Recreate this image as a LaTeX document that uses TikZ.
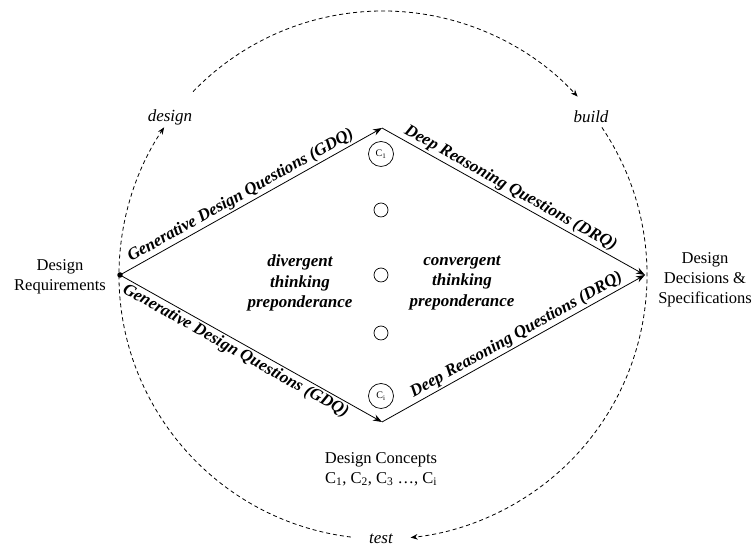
\documentclass[tikz,border=0pt]{standalone}
\usepackage{fontspec}
\setmainfont{Liberation Serif}
\usetikzlibrary{arrows.meta,calc}
\begin{document}
\begin{tikzpicture}[x=1pt,y=1pt,
  edge/.style={line width=0.8pt, -{Stealth[length=9pt,width=6.5pt]}},
  cyc/.style={line width=0.8pt, dash pattern=on 4pt off 3pt, -{Stealth[length=7pt,width=5.5pt]}},
  lbl/.style={font=\fontsize{17}{20.5}\selectfont\bfseries\itshape, inner sep=2pt},
  txt/.style={font=\fontsize{16.5}{20}\selectfont, align=center},
  midtxt/.style={font=\fontsize{17}{20.5}\selectfont\bfseries\itshape, align=center},
  cyctxt/.style={font=\fontsize{17}{20}\selectfont\itshape},
  bigc/.style={circle, draw, line width=0.7pt, minimum size=25pt, inner sep=0pt, font=\fontsize{10}{12}\selectfont},
  smallc/.style={circle, draw, line width=0.7pt, minimum size=14pt, inner sep=0pt}
]
\useasboundingbox (0,0) rectangle (753,548);
\coordinate (O) at (383,273);
\node[circle, fill, inner sep=0pt, minimum size=5.5pt] (L) at (120,273) {};
\coordinate (T) at (382,420);
\coordinate (R) at (645,273);
\coordinate (B) at (382,126);

% outer cycle
\node[cyctxt] (design) at (170,431) {design};
\node[cyctxt] (build) at (591,431) {build};
\node[cyctxt, inner sep=1pt] (test) at (381,9) {test};
\draw[cyc] ($(O)+(263:264)$) arc[start angle=263, end angle=146, radius=264];
\draw[cyc] ($(O)+(136:264)$) arc[start angle=136, end angle=42.5, radius=264];
\draw[cyc] ($(O)+(34:264)$) arc[start angle=34, end angle=-84, radius=264];

% diamond
\draw[edge] (L.center) -- node[lbl, sloped, above, pos=0.48] (gdq1) {Generative Design Questions (GDQ)} (T);
\draw[edge] (T) -- node[lbl, sloped, above, pos=0.47] (drq1) {Deep Reasoning Questions (DRQ)} (R);
\draw[edge] (L.center) -- node[lbl, sloped, below, pos=0.46] (gdq2) {Generative Design Questions (GDQ)} (B);
\draw[edge] (B) -- node[lbl, sloped, above, pos=0.53] (drq2) {Deep Reasoning Questions (DRQ)} (R);

% concepts
\node[bigc] (c1) at (381,394) {C\textsubscript{1}};
\node[smallc] (s1) at (381,338) {};
\node[smallc] (s2) at (381,273) {};
\node[smallc] (s3) at (381,215) {};
\node[bigc] (ci) at (381,152) {C\textsubscript{i}};

% texts
\node[txt] (req) at (60,271) {Design\\Requirements};
\node[txt] (dec) at (705,268) {Design\\Decisions \&\\Specifications};
\node[txt] (con) at (381,79) {Design Concepts\\C\textsubscript{1}, C\textsubscript{2}, C\textsubscript{3} \dots, C\textsubscript{i}};
\node[midtxt] (div) at (300,265) {divergent\\thinking\\preponderance};
\node[midtxt] (conv) at (462,265) {convergent\\thinking\\preponderance};
\end{tikzpicture}
\end{document}
